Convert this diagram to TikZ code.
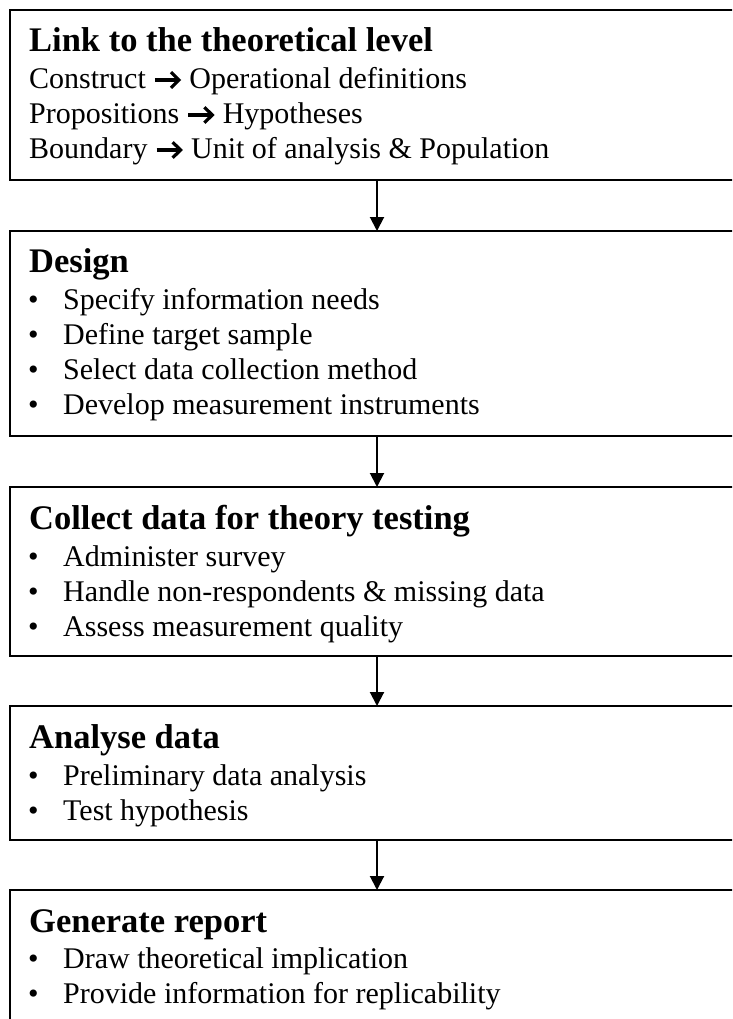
\documentclass[tikz,border=0pt]{standalone}
\usepackage{fontspec}
\setmainfont{Liberation Serif}
\usetikzlibrary{arrows.meta}

% heavy chevron arrow used inside the text lines
\newcommand{\heavyarrow}{\tikz[baseline=0pt]{%
  \path (0pt,0pt) rectangle (27.5pt,18pt);
  \draw[line width=3.2pt] (0.5pt,9pt) -- (24.5pt,9pt);
  \draw[line width=3.2pt, line join=miter, miter limit=4] (16.5pt,1.2pt) -- (24.5pt,9pt) -- (16.5pt,16.8pt);}}

\tikzset{
  stagebox/.style={draw, line width=2pt, minimum width=734pt, outer sep=0pt, inner sep=0pt},
  titletext/.style={anchor=base west, inner sep=0pt, font=\fontsize{34.5}{40}\selectfont\bfseries},
  bodytext/.style={anchor=base west, inner sep=0pt, font=\fontsize{30}{35}\selectfont},
  flow/.style={line width=2pt, -{Triangle[length=14pt, width=14pt]}},
}
\newcommand{\bul}{\makebox[35pt][l]{•}}

\begin{document}
\begin{tikzpicture}[x=1pt, y=-1pt]
\useasboundingbox (0,0) rectangle (732,1019);
\clip (0,0) rectangle (732,1019);
\fill[white] (0,0) rectangle (732,1019);

% stage boxes (open to the right and at the bottom of the page)
\node[stagebox, minimum height=170pt] (b1) at (377,95) {};
\node[stagebox, minimum height=205pt] (b2) at (377,333.5) {};
\node[stagebox, minimum height=169pt] (b3) at (377,571.5) {};
\node[stagebox, minimum height=134pt] (b4) at (377,773) {};
\node[stagebox, minimum height=150pt] (b5) at (377,965) {};

% flow between stages
\draw[flow] (b1.south) -- (b2.north);
\draw[flow] (b2.south) -- (b3.north);
\draw[flow] (b3.south) -- (b4.north);
\draw[flow] (b4.south) -- (b5.north);

% stage 1
\node[titletext] (t1) at (29,52) {Link to the theoretical level};
\node[bodytext] (t1a) at (29,89) {Construct \heavyarrow{} Operational definitions};
\node[bodytext] (t1b) at (29,124) {Propositions \heavyarrow{} Hypotheses};
\node[bodytext] (t1c) at (29,159) {Boundary \heavyarrow{} Unit of analysis \& Population};

% stage 2
\node[titletext] (t2) at (29,272) {Design};
\node[bodytext] (t2a) at (28,309) {\bul Specify information needs};
\node[bodytext] (t2b) at (28,344) {\bul Define target sample};
\node[bodytext] (t2c) at (28,379) {\bul Select data collection method};
\node[bodytext] (t2d) at (28,414) {\bul Develop measurement instruments};

% stage 3
\node[titletext] (t3) at (29,529) {Collect data for theory testing};
\node[bodytext] (t3a) at (28,566) {\bul Administer survey};
\node[bodytext] (t3b) at (28,601) {\bul Handle non-respondents \& missing data};
\node[bodytext] (t3c) at (28,636) {\bul Assess measurement quality};

% stage 4
\node[titletext] (t4) at (29,748) {Analyse data};
\node[bodytext] (t4a) at (28,785) {\bul Preliminary data analysis};
\node[bodytext] (t4b) at (28,820) {\bul Test hypothesis};

% stage 5
\node[titletext] (t5) at (29,932) {Generate report};
\node[bodytext] (t5a) at (28,968) {\bul Draw theoretical implication};
\node[bodytext] (t5b) at (28,1003) {\bul Provide information for replicability};
\end{tikzpicture}
\end{document}
